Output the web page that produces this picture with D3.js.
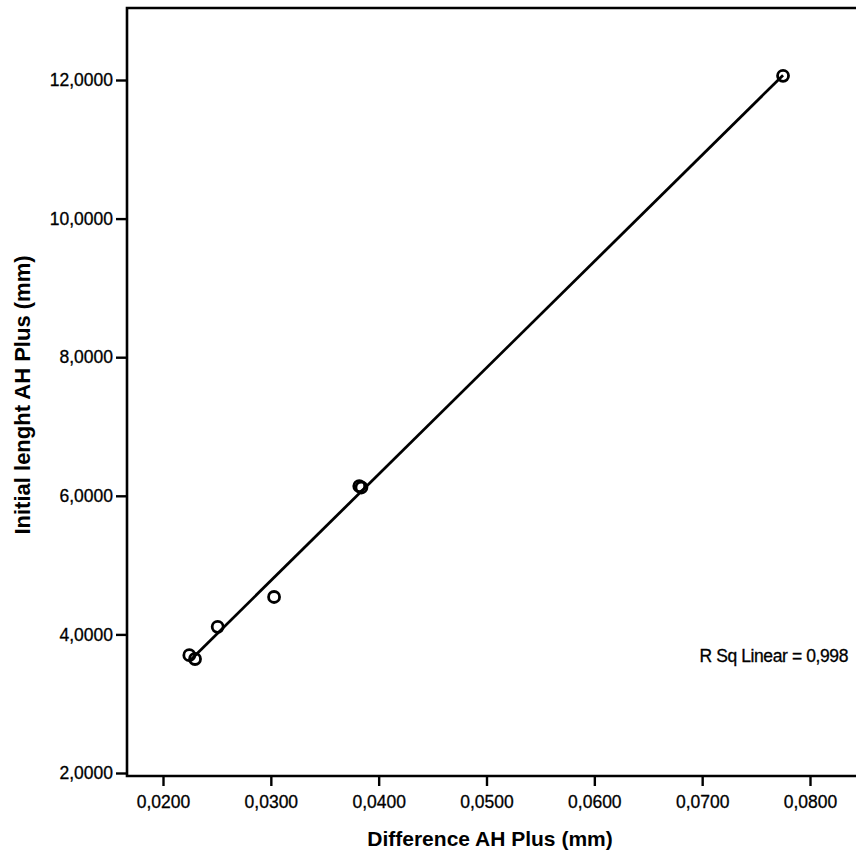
<!DOCTYPE html>
<html><head><meta charset="utf-8">
<script src="https://cdn.jsdelivr.net/npm/d3@7"></script>
<style>html,body{margin:0;padding:0;background:#fff;} svg{display:block;}</style>
</head><body>
<svg id="chart" width="856" height="855"></svg>
<script>
// Data
const diffAHPlus = [0.02244, 0.02297, 0.02507, 0.0303, 0.0382, 0.0384, 0.0775];
const initialLength = [3.70, 3.645, 4.11, 4.54, 6.14, 6.12, 12.06];
const xTicks = [0.02, 0.03, 0.04, 0.05, 0.06, 0.07, 0.08];
const yTicks = [2, 4, 6, 8, 10, 12];
const rSqLabel = "R Sq Linear = 0,998";
const xTitle = "Difference AH Plus (mm)";
const yTitle = "Initial lenght AH Plus (mm)";

const points = diffAHPlus.map((x, i) => ({x, y: initialLength[i]}));

const svg = d3.select("#chart");
const frameL = 127, frameT = 8, frameR = 860, frameB = 776;
const font = "Liberation Sans, Arial, sans-serif";

const x = d3.scaleLinear().domain([0.02, 0.08]).range([163, 810]);
const y = d3.scaleLinear().domain([2, 12]).range([773, 80]);

const loc = d3.formatLocale({decimal: ",", thousands: ".", grouping: [3], currency: ["", ""]});
const fmt = loc.format(".4f");

// frame (top line + left/bottom axes)
svg.append("path")
  .attr("d", `M${frameR},${frameT}H${frameL}V${frameB}H${frameR}`)
  .attr("fill", "none").attr("stroke", "#000").attr("stroke-width", 2.6);

// x axis
const xAxis = svg.append("g").attr("transform", `translate(0,${frameB})`)
  .call(d3.axisBottom(x).tickValues(xTicks).tickFormat(fmt).tickSize(10).tickPadding(10));
xAxis.select(".domain").remove();
xAxis.selectAll("line").attr("stroke", "#000").attr("stroke-width", 2.4);
xAxis.selectAll("text").attr("font-family", font)
  .attr("font-size", 17.5).attr("fill", "#000").attr("stroke", "#000").attr("stroke-width", 0.3);

// y axis
const yAxis = svg.append("g").attr("transform", `translate(${frameL},0)`)
  .call(d3.axisLeft(y).tickValues(yTicks).tickFormat(fmt).tickSize(11).tickPadding(3));
yAxis.select(".domain").remove();
yAxis.selectAll("line").attr("stroke", "#000").attr("stroke-width", 2.4);
yAxis.selectAll("text").attr("font-family", font)
  .attr("font-size", 17.5).attr("fill", "#000").attr("stroke", "#000").attr("stroke-width", 0.3);

// linear regression fit
const mx = d3.mean(points, d => d.x), my = d3.mean(points, d => d.y);
const slope = d3.sum(points, d => (d.x - mx) * (d.y - my)) / d3.sum(points, d => (d.x - mx) ** 2);
const icpt = my - slope * mx;
const [x0, x1] = d3.extent(points, d => d.x);
svg.append("line")
  .attr("x1", x(x0)).attr("y1", y(icpt + slope * x0))
  .attr("x2", x(x1)).attr("y2", y(icpt + slope * x1))
  .attr("stroke", "#000").attr("stroke-width", 2.8);

// points
svg.append("g").selectAll("circle").data(points).join("circle")
  .attr("cx", d => x(d.x)).attr("cy", d => y(d.y)).attr("r", 5.5)
  .attr("fill", "none").attr("stroke", "#000").attr("stroke-width", 2.8);

// R sq label
svg.append("text").attr("x", 848).attr("y", 662).attr("text-anchor", "end")
  .attr("font-family", font).attr("font-size", 17.5)
  .attr("letter-spacing", -0.4).attr("stroke", "#000").attr("stroke-width", 0.3).text(rSqLabel);

// titles
svg.append("text").attr("x", 490).attr("y", 846).attr("text-anchor", "middle")
  .attr("font-family", font).attr("font-size", 21)
  .attr("font-weight", "bold").text(xTitle);
svg.append("text").attr("transform", "translate(30,395) rotate(-90)").attr("text-anchor", "middle")
  .attr("font-family", font).attr("font-size", 22)
  .attr("font-weight", "bold").text(yTitle);
</script>
</body></html>
